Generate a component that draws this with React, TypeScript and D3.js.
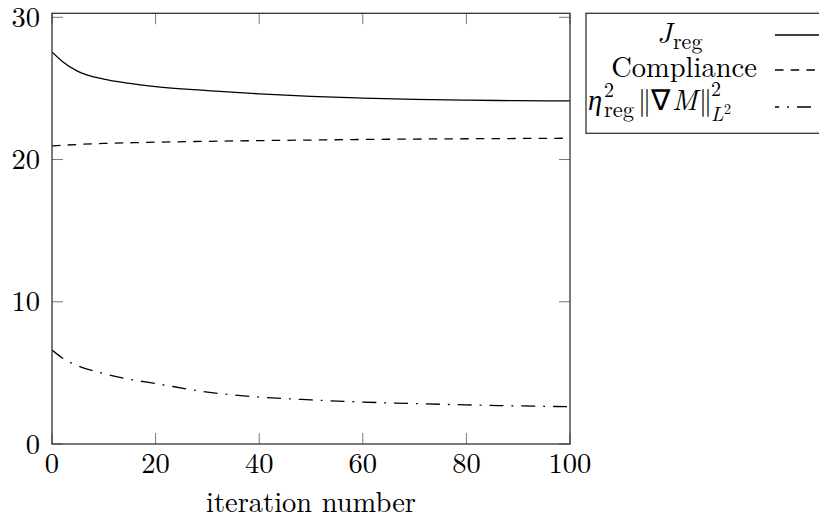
import React from "react";
import * as d3 from "d3";

const iterations = [0, 2, 5, 10, 15, 20, 30, 40, 50, 60, 70, 80, 90, 100];
const jReg = [27.57, 26.9, 26.2, 25.65, 25.35, 25.12, 24.85, 24.62, 24.44, 24.32, 24.23, 24.17, 24.14, 24.12];
const compliance = [20.96, 21.0, 21.06, 21.13, 21.18, 21.22, 21.28, 21.33, 21.37, 21.41, 21.44, 21.46, 21.48, 21.5];
const regTerm = [6.6, 6.05, 5.5, 4.95, 4.55, 4.25, 3.65, 3.3, 3.1, 2.95, 2.84, 2.75, 2.68, 2.62];
const xTicks = [0, 20, 40, 60, 80, 100];
const yTicks = [0, 10, 20, 30];

const W = 819;
const H = 520;
const FONT = '"Latin Modern Roman", "Liberation Serif", serif';
const ff = { fontFamily: FONT };

export default function App() {
  const left = 52, right = 570, top = 13.3, bottom = 444;
  const x = d3.scaleLinear().domain([0, 100]).range([left, right]);
  const y = d3.scaleLinear().domain([0, 30]).range([bottom, 17.3]);
  const line = (vals: number[]) =>
    d3
      .line<number>()
      .x((_, i) => x(iterations[i]))
      .y((v) => y(v))
      .curve(d3.curveMonotoneX)(vals) || "";

  const tickLen = 11;
  const fs = 28.5;
  return (
    <svg width={W} height={H} style={{ position: "absolute", left: 0, top: 0, background: "#fff" }}>
      <defs>
        <clipPath id="plotclip">
          <rect x={left} y={top} width={right - left} height={bottom - top} />
        </clipPath>
      </defs>
      {xTicks.map((t) => (
        <g key={"xt" + t} stroke="#777" strokeWidth={1}>
          <line x1={x(t)} x2={x(t)} y1={bottom} y2={bottom - tickLen} />
          <line x1={x(t)} x2={x(t)} y1={top} y2={top + tickLen} />
        </g>
      ))}
      {yTicks.map((t) => (
        <g key={"yt" + t} stroke="#777" strokeWidth={1}>
          <line x1={left} x2={left + tickLen} y1={y(t)} y2={y(t)} />
          <line x1={right} x2={right - tickLen} y1={y(t)} y2={y(t)} />
        </g>
      ))}
      <g clipPath="url(#plotclip)" fill="none" stroke="#000" strokeWidth={1.3}>
        <path d={line(jReg)} />
        <path d={line(compliance)} strokeDasharray="8.5 7.2" />
        <path d={line(regTerm)} strokeDasharray="14 8 1.8 8" />
      </g>
      <rect x={left} y={top} width={right - left} height={bottom - top} fill="none" stroke="#333" strokeWidth={1.3} />
      {xTicks.map((t) => (
        <text key={"xl" + t} x={x(t)} y={473} textAnchor="middle" fontSize={fs} fill="#000" style={ff}>
          {t}
        </text>
      ))}
      {yTicks.map((t) => (
        <text key={"yl" + t} x={40} y={y(t) + 9.5} textAnchor="end" fontSize={fs} fill="#000" style={ff}>
          {t}
        </text>
      ))}
      <text x={(left + right) / 2} y={512} textAnchor="middle" fontSize={fs} fill="#000" style={ff}>
        iteration number
      </text>
      {/* legend */}
      <rect x={586} y={13.3} width={250} height={120} fill="#fff" stroke="#333" strokeWidth={1.3} />
      <text x={657} y={43} fontSize={fs} fontStyle="italic" fill="#000" style={ff}>J</text>
      <text x={673} y={49} fontSize={22} fill="#000" style={ff}>reg</text>
      <text x={684} y={76.7} textAnchor="middle" fontSize={fs} fill="#000" style={ff}>
        Compliance
      </text>
      <text x={588} y={110} fontSize={fs} fontStyle="italic" fill="#000" style={ff}>η</text>
      <text x={604} y={97} fontSize={20} fill="#000" style={ff}>2</text>
      <text x={604} y={117} fontSize={22.5} fill="#000" style={ff}>reg</text>
      <text x={638} y={110} fontSize={fs} fill="#000" letterSpacing={-3} style={ff}>||</text>
      <text x={651} y={110} fontSize={fs} fill="#000" style={ff}>∇</text>
      <text x={672} y={110} fontSize={fs} fontStyle="italic" fill="#000" style={ff}>M</text>
      <text x={699} y={110} fontSize={fs} fill="#000" letterSpacing={-3} style={ff}>||</text>
      <text x={711} y={96} fontSize={20} fill="#000" style={ff}>2</text>
      <text x={711} y={121} fontSize={20} fontStyle="italic" fill="#000" style={ff}>L</text>
      <text x={724} y={114} fontSize={14} fill="#000" style={ff}>2</text>
      <g fill="none" stroke="#000" strokeWidth={1.3}>
        <line x1={775} x2={830} y1={35} y2={35} />
        <line x1={775} x2={830} y1={70} y2={70} strokeDasharray="8.5 7.2" />
        <line x1={775} x2={830} y1={107} y2={107} strokeDasharray="14 8 1.8 8" strokeDashoffset={-22} />
      </g>
    </svg>
  );
}
